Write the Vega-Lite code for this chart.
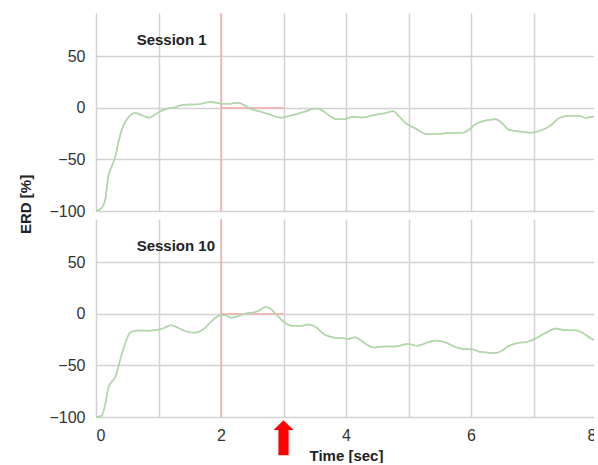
{
  "$schema": "https://vega.github.io/schema/vega-lite/v6.json",
  "padding": {"left": 19, "top": 12, "right": -5, "bottom": 0},
  "autosize": {"type": "pad"},
  "background": "white",
  "config": {
    "view": {"stroke": null},
    "font": "Liberation Sans",
    "axis": {"grid": true, "gridColor": "#d2d2d2", "gridWidth": 1.5, "gridOpacity": 1, "ticks": false, "domain": false, "labelColor": "#333333", "labelFontSize": 16, "titleColor": "#222222"}
  },
  "data": {"values": [
    {"session": "Session 1", "t": 0.0, "erd": -100},
    {"session": "Session 1", "t": 0.09, "erd": -97},
    {"session": "Session 1", "t": 0.15, "erd": -88},
    {"session": "Session 1", "t": 0.2, "erd": -65},
    {"session": "Session 1", "t": 0.25, "erd": -57},
    {"session": "Session 1", "t": 0.31, "erd": -47},
    {"session": "Session 1", "t": 0.36, "erd": -33},
    {"session": "Session 1", "t": 0.44, "erd": -17},
    {"session": "Session 1", "t": 0.52, "erd": -9},
    {"session": "Session 1", "t": 0.63, "erd": -5},
    {"session": "Session 1", "t": 0.71, "erd": -6.5},
    {"session": "Session 1", "t": 0.85, "erd": -9.5},
    {"session": "Session 1", "t": 0.93, "erd": -7},
    {"session": "Session 1", "t": 1.04, "erd": -3},
    {"session": "Session 1", "t": 1.15, "erd": -0.6},
    {"session": "Session 1", "t": 1.25, "erd": 0.3},
    {"session": "Session 1", "t": 1.36, "erd": 2.6},
    {"session": "Session 1", "t": 1.47, "erd": 3.2},
    {"session": "Session 1", "t": 1.58, "erd": 3.2},
    {"session": "Session 1", "t": 1.69, "erd": 4},
    {"session": "Session 1", "t": 1.82, "erd": 5.8},
    {"session": "Session 1", "t": 1.93, "erd": 5},
    {"session": "Session 1", "t": 2.03, "erd": 4},
    {"session": "Session 1", "t": 2.12, "erd": 4},
    {"session": "Session 1", "t": 2.28, "erd": 5},
    {"session": "Session 1", "t": 2.36, "erd": 3},
    {"session": "Session 1", "t": 2.49, "erd": -1.3},
    {"session": "Session 1", "t": 2.65, "erd": -4},
    {"session": "Session 1", "t": 2.81, "erd": -7},
    {"session": "Session 1", "t": 2.95, "erd": -9.5},
    {"session": "Session 1", "t": 3.08, "erd": -8},
    {"session": "Session 1", "t": 3.24, "erd": -5.5},
    {"session": "Session 1", "t": 3.37, "erd": -3},
    {"session": "Session 1", "t": 3.5, "erd": -0.6},
    {"session": "Session 1", "t": 3.61, "erd": -2},
    {"session": "Session 1", "t": 3.72, "erd": -7},
    {"session": "Session 1", "t": 3.86, "erd": -11},
    {"session": "Session 1", "t": 3.97, "erd": -11},
    {"session": "Session 1", "t": 4.12, "erd": -8.7},
    {"session": "Session 1", "t": 4.28, "erd": -9.3},
    {"session": "Session 1", "t": 4.44, "erd": -7},
    {"session": "Session 1", "t": 4.6, "erd": -5.5},
    {"session": "Session 1", "t": 4.76, "erd": -3.2},
    {"session": "Session 1", "t": 4.84, "erd": -7.7},
    {"session": "Session 1", "t": 4.95, "erd": -14.5},
    {"session": "Session 1", "t": 5.11, "erd": -20},
    {"session": "Session 1", "t": 5.3, "erd": -25.5},
    {"session": "Session 1", "t": 5.45, "erd": -25.5},
    {"session": "Session 1", "t": 5.67, "erd": -24},
    {"session": "Session 1", "t": 5.86, "erd": -24},
    {"session": "Session 1", "t": 5.97, "erd": -21},
    {"session": "Session 1", "t": 6.05, "erd": -16.8},
    {"session": "Session 1", "t": 6.16, "erd": -13.5},
    {"session": "Session 1", "t": 6.26, "erd": -12},
    {"session": "Session 1", "t": 6.4, "erd": -11},
    {"session": "Session 1", "t": 6.5, "erd": -15},
    {"session": "Session 1", "t": 6.6, "erd": -21},
    {"session": "Session 1", "t": 6.79, "erd": -23},
    {"session": "Session 1", "t": 6.97, "erd": -24},
    {"session": "Session 1", "t": 7.13, "erd": -21.6},
    {"session": "Session 1", "t": 7.26, "erd": -17.7},
    {"session": "Session 1", "t": 7.42, "erd": -9.7},
    {"session": "Session 1", "t": 7.58, "erd": -7.7},
    {"session": "Session 1", "t": 7.73, "erd": -7.7},
    {"session": "Session 1", "t": 7.84, "erd": -9.7},
    {"session": "Session 1", "t": 7.92, "erd": -8.7},
    {"session": "Session 1", "t": 8.0, "erd": -8},
    {"session": "Session 10", "t": 0.0, "erd": -100},
    {"session": "Session 10", "t": 0.09, "erd": -99},
    {"session": "Session 10", "t": 0.15, "erd": -87},
    {"session": "Session 10", "t": 0.2, "erd": -71},
    {"session": "Session 10", "t": 0.25, "erd": -66},
    {"session": "Session 10", "t": 0.31, "erd": -61},
    {"session": "Session 10", "t": 0.39, "erd": -44},
    {"session": "Session 10", "t": 0.47, "erd": -28},
    {"session": "Session 10", "t": 0.55, "erd": -18},
    {"session": "Session 10", "t": 0.66, "erd": -16},
    {"session": "Session 10", "t": 0.82, "erd": -16.3},
    {"session": "Session 10", "t": 0.98, "erd": -15.6},
    {"session": "Session 10", "t": 1.09, "erd": -13.6},
    {"session": "Session 10", "t": 1.2, "erd": -11},
    {"session": "Session 10", "t": 1.31, "erd": -13.3},
    {"session": "Session 10", "t": 1.44, "erd": -17},
    {"session": "Session 10", "t": 1.58, "erd": -18.3},
    {"session": "Session 10", "t": 1.71, "erd": -15.3},
    {"session": "Session 10", "t": 1.84, "erd": -7.6},
    {"session": "Session 10", "t": 1.96, "erd": -2},
    {"session": "Session 10", "t": 2.05, "erd": -1},
    {"session": "Session 10", "t": 2.17, "erd": -3.7},
    {"session": "Session 10", "t": 2.3, "erd": -1.7},
    {"session": "Session 10", "t": 2.41, "erd": 0.7},
    {"session": "Session 10", "t": 2.55, "erd": 1.7},
    {"session": "Session 10", "t": 2.63, "erd": 4},
    {"session": "Session 10", "t": 2.71, "erd": 6.6},
    {"session": "Session 10", "t": 2.79, "erd": 5},
    {"session": "Session 10", "t": 2.89, "erd": -1},
    {"session": "Session 10", "t": 3.0, "erd": -7.6},
    {"session": "Session 10", "t": 3.13, "erd": -11.6},
    {"session": "Session 10", "t": 3.27, "erd": -11.6},
    {"session": "Session 10", "t": 3.4, "erd": -10.3},
    {"session": "Session 10", "t": 3.51, "erd": -12.6},
    {"session": "Session 10", "t": 3.64, "erd": -19.3},
    {"session": "Session 10", "t": 3.78, "erd": -22.6},
    {"session": "Session 10", "t": 3.94, "erd": -23.6},
    {"session": "Session 10", "t": 4.04, "erd": -24.3},
    {"session": "Session 10", "t": 4.14, "erd": -22.6},
    {"session": "Session 10", "t": 4.28, "erd": -27.6},
    {"session": "Session 10", "t": 4.44, "erd": -32.6},
    {"session": "Session 10", "t": 4.6, "erd": -31.6},
    {"session": "Session 10", "t": 4.78, "erd": -31.6},
    {"session": "Session 10", "t": 4.99, "erd": -29.2},
    {"session": "Session 10", "t": 5.15, "erd": -30.9},
    {"session": "Session 10", "t": 5.28, "erd": -28.2},
    {"session": "Session 10", "t": 5.45, "erd": -25.9},
    {"session": "Session 10", "t": 5.61, "erd": -28.2},
    {"session": "Session 10", "t": 5.77, "erd": -32.6},
    {"session": "Session 10", "t": 5.9, "erd": -34.2},
    {"session": "Session 10", "t": 6.03, "erd": -34.6},
    {"session": "Session 10", "t": 6.12, "erd": -36.5},
    {"session": "Session 10", "t": 6.25, "erd": -37.5},
    {"session": "Session 10", "t": 6.38, "erd": -38.2},
    {"session": "Session 10", "t": 6.49, "erd": -35.9},
    {"session": "Session 10", "t": 6.59, "erd": -31.6},
    {"session": "Session 10", "t": 6.73, "erd": -28.6},
    {"session": "Session 10", "t": 6.91, "erd": -26.9},
    {"session": "Session 10", "t": 7.04, "erd": -23.6},
    {"session": "Session 10", "t": 7.2, "erd": -18.3},
    {"session": "Session 10", "t": 7.36, "erd": -14.3},
    {"session": "Session 10", "t": 7.52, "erd": -15.9},
    {"session": "Session 10", "t": 7.67, "erd": -15.9},
    {"session": "Session 10", "t": 7.81, "erd": -19.3},
    {"session": "Session 10", "t": 7.91, "erd": -23.6},
    {"session": "Session 10", "t": 8.0, "erd": -26}
  ]},
  "spacing": {"row": 8},
  "bounds": "flush",
  "facet": {
    "row": {
      "field": "session", "type": "nominal",
      "header": {"labels": false, "title": "ERD [%]", "titleFontSize": 15, "titleFontWeight": "bold", "titleColor": "#222222", "titleFont": "Liberation Sans", "titlePadding": 4, "titleAlign": "left"}
    }
  },
  "spec": {
    "width": 500,
    "height": 198,
    "layer": [
      {
        "mark": {"type": "line", "color": "#b3d7ac", "strokeWidth": 1.5, "interpolate": "monotone"},
        "encoding": {
          "x": {"field": "t", "type": "quantitative", "scale": {"domain": [0, 8], "nice": false},
            "axis": {"grid": true, "values": [0, 1, 2, 3, 4, 5, 6, 7, 8], "format": "d", "labelExpr": "datum.value % 2 === 0 ? datum.label : ''", "labelPadding": 10, "title": "Time [sec]", "titleFontSize": 15, "titleFontWeight": "bold", "titlePadding": 5}},
          "y": {"field": "erd", "type": "quantitative", "scale": {"domain": [-100, 92], "nice": false},
            "axis": {"grid": true, "values": [-100, -50, 0, 50], "format": "d", "labelPadding": 11, "title": null}}
        }
      },
      {
        "transform": [{"aggregate": [{"op": "count", "as": "n"}], "groupby": ["session"]}],
        "mark": {"type": "rule", "color": "#f6a3a3", "strokeWidth": 1.2},
        "encoding": {"x": {"datum": 2, "type": "quantitative"}}
      },
      {
        "transform": [{"aggregate": [{"op": "count", "as": "n"}], "groupby": ["session"]}],
        "mark": {"type": "rule", "color": "#f6a3a3", "strokeWidth": 1.2},
        "encoding": {"x": {"datum": 2, "type": "quantitative"}, "x2": {"datum": 3}, "y": {"datum": 0, "type": "quantitative"}}
      },
      {
        "mark": {"type": "line", "color": "#b3d7ac", "strokeWidth": 1.5, "interpolate": "monotone"},
        "encoding": {"x": {"field": "t", "type": "quantitative"}, "y": {"field": "erd", "type": "quantitative"}}
      },
      {
        "transform": [{"aggregate": [{"op": "count", "as": "n"}], "groupby": ["session"]}],
        "mark": {"type": "text", "align": "left", "baseline": "middle", "fontSize": 15, "fontWeight": "bold", "color": "#222222", "font": "Liberation Sans"},
        "encoding": {"x": {"datum": 0.65, "type": "quantitative"}, "y": {"datum": 66, "type": "quantitative"}, "text": {"field": "session"}}
      },
      {
        "transform": [{"filter": "datum.session === 'Session 10'"}, {"aggregate": [{"op": "count", "as": "n"}], "groupby": ["session"]}],
        "mark": {"type": "point", "filled": true, "color": "#ff0000", "opacity": 1, "size": 1225, "shape": "M0,-1L0.57,-0.43L0.29,-0.43L0.29,1L-0.29,1L-0.29,-0.43L-0.57,-0.43Z"},
        "encoding": {"x": {"datum": 3, "type": "quantitative"}, "y": {"datum": -120, "type": "quantitative"}}
      }
    ]
  }
}
